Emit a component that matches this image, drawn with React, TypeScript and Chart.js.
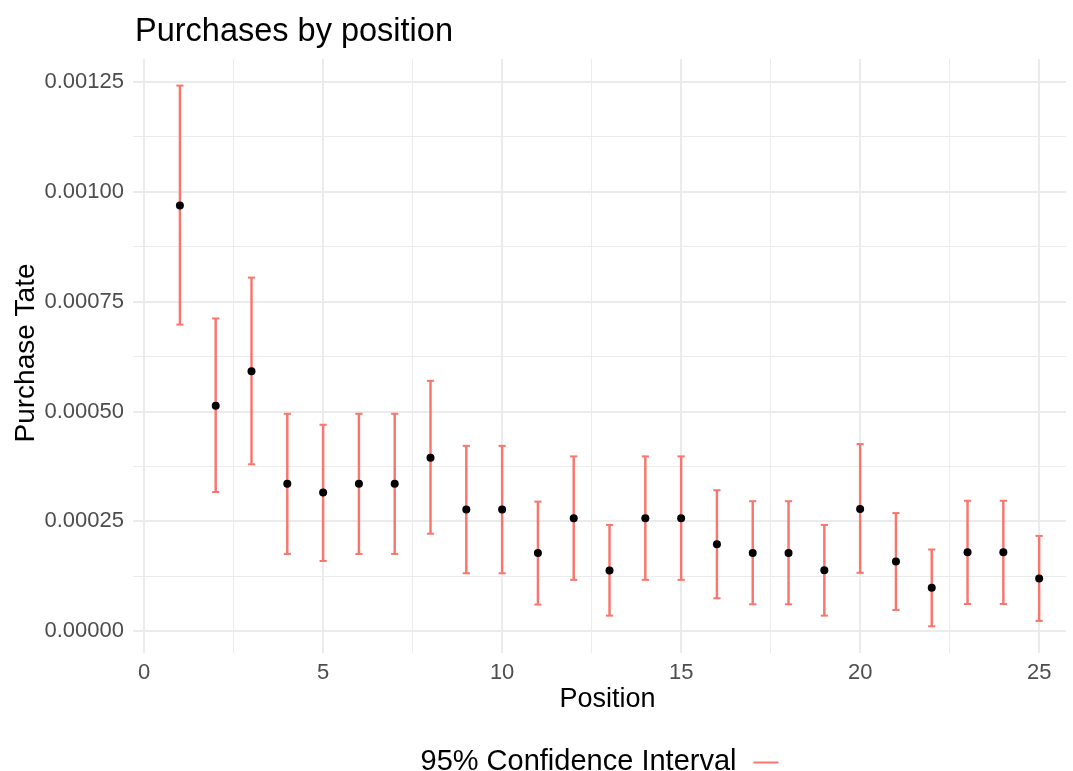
import React, { useEffect, useRef } from 'react';
import { Chart, registerables } from 'chart.js';

Chart.register(...registerables);

const positions = [1, 2, 3, 4, 5, 6, 7, 8, 9, 10, 11, 12, 13, 14, 15, 16, 17, 18, 19, 20, 21, 22, 23, 24, 25];
const purchaseRate = [0.000969, 0.000513, 0.000592, 0.000336, 0.000316, 0.000336, 0.000336, 0.000395, 0.000277, 0.000277, 0.000178, 0.000257, 0.000138, 0.000257, 0.000257, 0.000198, 0.000178, 0.000178, 0.000139, 0.000278, 0.000159, 0.0000992, 0.00018, 0.00018, 0.00012];
const ciLower = [0.000698, 0.000317, 0.00038, 0.000176, 0.00016, 0.000176, 0.000176, 0.000222, 0.000132, 0.000132, 0.0000608, 0.000117, 0.0000356, 0.000117, 0.000117, 0.000075, 0.0000614, 0.0000614, 0.0000356, 0.000133, 0.0000485, 0.0000114, 0.000062, 0.000062, 0.0000235];
const ciUpper = [0.001242, 0.000712, 0.000805, 0.000495, 0.00047, 0.000495, 0.000495, 0.00057, 0.000422, 0.000422, 0.000295, 0.000398, 0.000242, 0.000398, 0.000398, 0.000321, 0.000296, 0.000296, 0.000242, 0.000426, 0.000269, 0.000186, 0.000297, 0.000297, 0.000217];

const xTickValues = [0, 2.5, 5, 7.5, 10, 12.5, 15, 17.5, 20, 22.5, 25];
const xTickLabels = ['0', '', '5', '', '10', '', '15', '', '20', '', '25'];
const yTickValues = [0, 0.000125, 0.00025, 0.000375, 0.0005, 0.000625, 0.00075, 0.000875, 0.001, 0.001125, 0.00125];
const yTickLabels = ['0.00000', '', '0.00025', '', '0.00050', '', '0.00075', '', '0.00100', '', '0.00125'];

const TITLE = 'Purchases by position';
const X_TITLE = 'Position';
const Y_TITLE = 'Purchase Tate';
const LEGEND_LABEL = '95% Confidence Interval';

const RED = '#F8766D';
const GRID = '#EBEBEB';
const FONT = '"Liberation Sans", Arial, Helvetica, sans-serif';

export default function App() {
  const ref = useRef<HTMLCanvasElement | null>(null);

  useEffect(() => {
    const canvas = ref.current;
    if (!canvas) return;

    const textPlugin = {
      id: 'ggText',
      afterDraw(chart: any) {
        const ctx = chart.ctx as CanvasRenderingContext2D;
        const area = chart.chartArea;
        const cx = (area.left + area.right) / 2;
        const cy = (area.top + area.bottom) / 2;
        ctx.save();
        ctx.fillStyle = '#000000';
        ctx.textBaseline = 'alphabetic';

        ctx.font = `32.5px ${FONT}`;
        ctx.textAlign = 'left';
        ctx.fillText(TITLE, 135, 41);

        ctx.font = `27px ${FONT}`;
        ctx.textAlign = 'center';
        ctx.fillText(X_TITLE, cx + 8, 707);

        ctx.save();
        ctx.font = `28px ${FONT}`;
        ctx.translate(34, cy - 3);
        ctx.rotate(-Math.PI / 2);
        ctx.textAlign = 'center';
        ctx.fillText(Y_TITLE, 0, 0);
        ctx.restore();

        ctx.font = `29px ${FONT}`;
        ctx.textAlign = 'left';
        const tw = ctx.measureText(LEGEND_LABEL).width;
        const gap = 17;
        const keyLen = 25;
        const start = cx - (tw + gap + keyLen) / 2;
        ctx.fillText(LEGEND_LABEL, start, 770);
        ctx.strokeStyle = RED;
        ctx.lineWidth = 2;
        ctx.beginPath();
        ctx.moveTo(start + tw + gap, 762.5);
        ctx.lineTo(start + tw + gap + keyLen, 762.5);
        ctx.stroke();
        ctx.restore();
      },
    };

    const isMajor = (v: number, step: number) => Math.abs(v / step - Math.round(v / step)) < 1e-6;

    const chart = new Chart(canvas, {
      type: 'scatter',
      data: {
        datasets: [
          {
            type: 'scatter',
            label: 'Purchase rate',
            data: positions.map((p, i) => ({ x: p, y: purchaseRate[i] })),
            backgroundColor: '#000000',
            borderWidth: 0,
            pointRadius: 4,
            pointHoverRadius: 4,
            order: 0,
          },
          {
            type: 'scatter',
            label: 'caps',
            data: [
              ...positions.map((p, i) => ({ x: p, y: ciLower[i] })),
              ...positions.map((p, i) => ({ x: p, y: ciUpper[i] })),
            ],
            pointStyle: 'line',
            pointRadius: 3.6,
            pointHoverRadius: 3.6,
            borderColor: RED,
            borderWidth: 2,
            order: 1,
          },
          {
            type: 'bar',
            label: LEGEND_LABEL,
            data: positions.map((p, i) => ({ x: p, y: [ciLower[i], ciUpper[i]] })) as any,
            backgroundColor: RED,
            borderWidth: 0,
            barThickness: 1.8,
            grouped: false,
            order: 2,
          } as any,
        ],
      },
      options: {
        animation: false,
        responsive: false,
        events: [],
        layout: { padding: { left: 0, top: 59, right: 7, bottom: 0 } },
        plugins: {
          legend: { display: false },
          tooltip: { enabled: false },
          title: { display: false },
        },
        scales: {
          x: {
            type: 'linear',
            min: -0.31,
            max: 25.75,
            offset: false,
            afterBuildTicks: (s: any) => {
              s.ticks = xTickValues.map((v) => ({ value: v }));
            },
            afterFit: (s: any) => {
              s.height = 118;
            },
            ticks: {
              autoSkip: false,
              maxRotation: 0,
              padding: 7,
              color: '#4D4D4D',
              font: { family: FONT, size: 22 },
              callback: (_v: any, i: number) => xTickLabels[i],
            },
            grid: {
              offset: false,
              drawTicks: false,
              color: GRID,
              lineWidth: (c: any) => (c.tick && isMajor(c.tick.value, 5) ? 2 : 1),
            },
            border: { display: false },
          },
          y: {
            type: 'linear',
            min: -0.0000495,
            max: 0.0013025,
            afterBuildTicks: (s: any) => {
              s.ticks = yTickValues.map((v) => ({ value: v }));
            },
            afterFit: (s: any) => {
              s.width = 133;
            },
            ticks: {
              autoSkip: false,
              padding: 9,
              color: '#4D4D4D',
              font: { family: FONT, size: 22 },
              callback: (_v: any, i: number) => yTickLabels[i],
            },
            grid: {
              offset: false,
              drawTicks: false,
              color: GRID,
              lineWidth: (c: any) => (c.tick && isMajor(c.tick.value, 0.00025) ? 2 : 1),
            },
            border: { display: false },
          },
        },
      },
      plugins: [textPlugin],
    } as any);

    return () => {
      chart.destroy();
    };
  }, []);

  return (
    <div style={{ position: 'absolute', left: 0, top: 0, width: 1073, height: 771, background: '#ffffff' }}>
      <canvas ref={ref} width={1073} height={771} style={{ width: 1073, height: 771, display: 'block' }} />
    </div>
  );
}
